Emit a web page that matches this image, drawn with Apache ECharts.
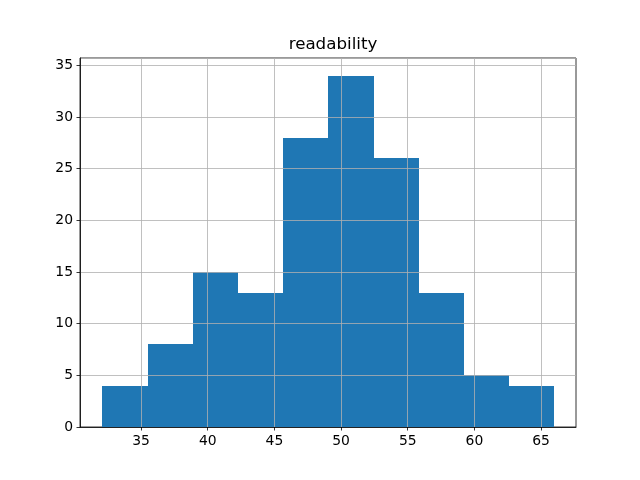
<!DOCTYPE html>
<html>
<head>
<meta charset="utf-8">
<script src="https://cdn.jsdelivr.net/npm/echarts@6/dist/echarts.min.js"></script>
<style>
  html, body { margin: 0; padding: 0; background: #fff; }
  #chart { width: 640px; height: 480px; }
</style>
</head>
<body>
<div id="chart"></div>
<script>
// bin edges and counts
var binEdges = [32.1, 35.49, 38.88, 42.27, 45.66, 49.05, 52.44, 55.83, 59.22, 62.61, 66.0];
var counts = [4, 8, 15, 13, 28, 34, 26, 13, 5, 4];
var xTicks = [35, 40, 45, 50, 55, 60, 65];

var bars = [];
for (var i = 0; i < counts.length; i++) {
  bars.push([binEdges[i], binEdges[i + 1], counts[i]]);
}

var chart = echarts.init(document.getElementById('chart'));

var axisFont = { fontFamily: 'DejaVu Sans', fontSize: 13.9, color: '#000' };

var option = {
  backgroundColor: '#fff',
  animation: false,
  title: {
    text: 'readability',
    left: 328,
    textAlign: 'center',
    top: 31,
    textStyle: { fontFamily: 'DejaVu Sans', fontSize: 16.7, fontWeight: 'normal', color: '#000' }
  },
  grid: {
    left: 80, right: 64, top: 58, bottom: 53,
    show: true, borderColor: '#000', borderWidth: 0.8, backgroundColor: 'transparent'
  },
  xAxis: {
    type: 'value',
    min: 30.42,
    max: 67.62,
    z: 5,
    axisLine: { show: true, onZero: false, lineStyle: { color: '#000', width: 0.8 } },
    axisTick: { show: true, length: 3.5, lineStyle: { color: '#000', width: 0.8 }, customValues: xTicks },
    axisLabel: Object.assign({ margin: 7, customValues: xTicks }, axisFont),
    splitLine: { show: true, lineStyle: { color: '#b0b0b0', width: 0.8 } }
  },
  yAxis: {
    type: 'value',
    min: 0,
    max: 35.7,
    interval: 5,
    z: 5,
    axisLine: { show: true, lineStyle: { color: '#000', width: 0.8 } },
    axisTick: { show: true, length: 3.5, lineStyle: { color: '#000', width: 0.8 } },
    axisLabel: Object.assign({ margin: 7, showMaxLabel: false }, axisFont),
    splitLine: { show: true, lineStyle: { color: '#b0b0b0', width: 0.8 } }
  },
  series: [{
    type: 'custom',
    z: 2,
    renderItem: function (params, api) {
      var p0 = api.coord([api.value(0), api.value(2)]);
      var p1 = api.coord([api.value(1), 0]);
      var x0 = Math.round(p0[0]), x1 = Math.round(p1[0]);
      var y0 = Math.round(p0[1]), y1 = Math.round(p1[1]);
      return {
        type: 'rect',
        shape: { x: x0, y: y0, width: x1 - x0, height: y1 - y0 },
        style: { fill: '#1f77b4' }
      };
    },
    encode: { x: [0, 1], y: 2 },
    data: bars
  }]
};

chart.setOption(option);
</script>
</body>
</html>
